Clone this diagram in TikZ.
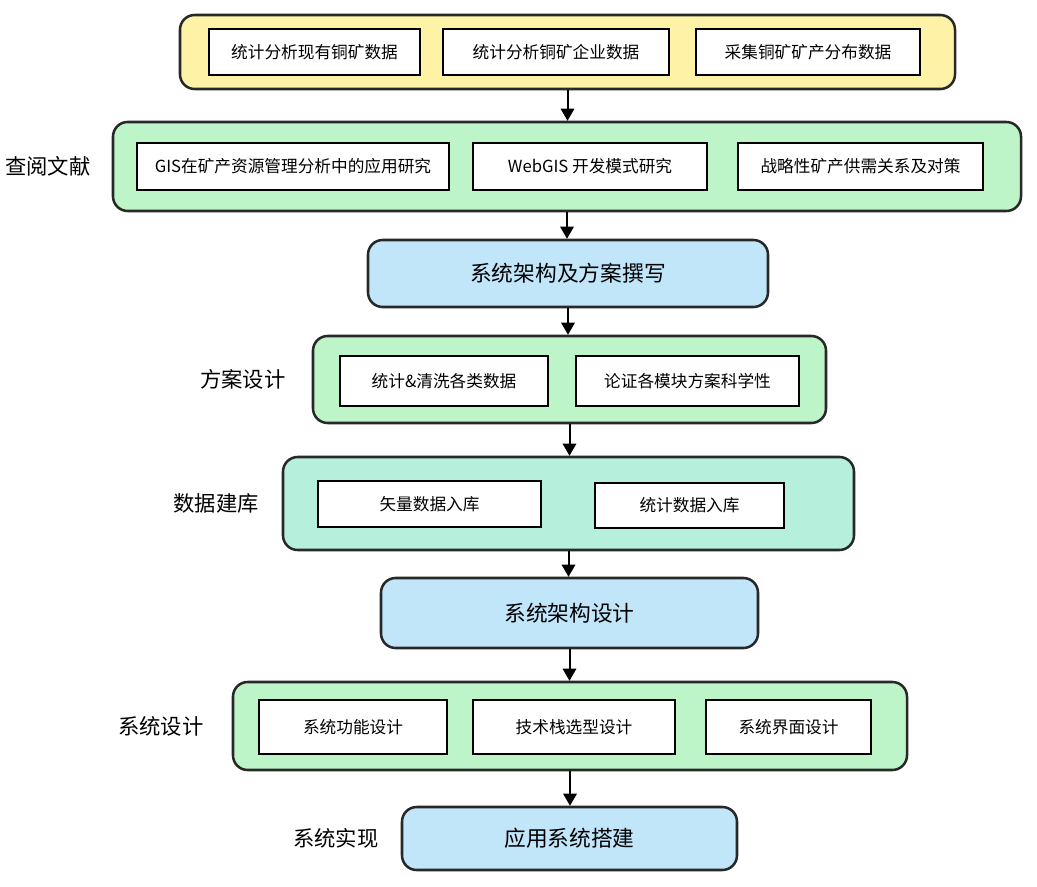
\documentclass[tikz,border=0pt]{standalone}
\usepackage{fontspec}
\setmainfont{Noto Sans CJK SC}
\usepackage{tikz}
\usetikzlibrary{arrows,positioning}
\definecolor{stageyellow}{RGB}{253,242,166}
\definecolor{stagegreen}{RGB}{190,245,200}
\definecolor{stageteal}{RGB}{182,240,220}
\definecolor{stageblue}{RGB}{193,230,250}
\definecolor{edgegray}{RGB}{40,40,40}

\begin{document}
\begin{tikzpicture}[x=0.75pt,y=-0.75pt,
    stage/.style={draw=edgegray, line width=1.9pt, rounded corners=11pt, inner sep=0pt},
    item/.style={draw=black, line width=1.5pt, fill=white, inner sep=0pt, font=\fontsize{12.5}{15}\selectfont},
    side/.style={font=\fontsize{16}{19}\selectfont, inner sep=0pt},
    flow/.style={black, line width=1.5pt, -triangle 60}]
   \useasboundingbox (0,0) rectangle (1037,887);
   % stages
   \node [stage, fill=stageyellow, minimum width=581.25pt, minimum height=55.5pt] (collect) at (567.5,52) {};
   \node [stage, fill=stagegreen, minimum width=681pt, minimum height=66.75pt] (review) at (567,166.5) {};
   \node [stage, fill=stageblue, minimum width=300pt, minimum height=50.25pt, font=\fontsize{16.3}{19}\selectfont] (plan) at (568,273.5) {系统架构及方案撰写};
   \node [stage, fill=stagegreen, minimum width=384.75pt, minimum height=65.25pt] (scheme) at (569.5,379.5) {};
   \node [stage, fill=stageteal, minimum width=428.25pt, minimum height=69.75pt] (database) at (568.5,503.5) {};
   \node [stage, fill=stageblue, minimum width=282.75pt, minimum height=52.5pt, font=\fontsize{16.3}{19}\selectfont] (arch) at (569.5,613) {系统架构设计};
   \node [stage, fill=stagegreen, minimum width=505.5pt, minimum height=66pt] (design) at (570,726) {};
   \node [stage, fill=stageblue, minimum width=251.25pt, minimum height=47.25pt, font=\fontsize{16.3}{19}\selectfont] (build) at (569.5,838.5) {应用系统搭建};
   % items
   \node [item, minimum width=158.25pt, minimum height=34.5pt] (c1) at (314.5,52) {统计分析现有铜矿数据};
   \node [item, minimum width=169.5pt, minimum height=34.5pt] (c2) at (556,52) {统计分析铜矿企业数据};
   \node [item, minimum width=168pt, minimum height=34.5pt] (c3) at (808,52) {采集铜矿矿产分布数据};
   \node [item, minimum width=234pt, minimum height=35.25pt] (r1) at (293,166.5) {GIS在矿产资源管理分析中的应用研究};
   \node [item, minimum width=175.5pt, minimum height=35.25pt] (r2) at (590,166.5) {WebGIS 开发模式研究};
   \node [item, minimum width=183.75pt, minimum height=35.25pt] (r3) at (860.5,166.5) {战略性矿产供需关系及对策};
   \node [item, minimum width=156pt, minimum height=37.5pt] (s1) at (444,381) {统计\&清洗各类数据};
   \node [item, minimum width=167.25pt, minimum height=37.5pt] (s2) at (687.5,381) {论证各模块方案科学性};
   \node [item, minimum width=167.25pt, minimum height=34.5pt] (d1) at (429.5,504) {矢量数据入库};
   \node [item, minimum width=141.75pt, minimum height=34pt] (d2) at (689.5,505.5) {统计数据入库};
   \node [item, minimum width=141pt, minimum height=40.5pt] (g1) at (353,727) {系统功能设计};
   \node [item, minimum width=151.5pt, minimum height=40.5pt] (g2) at (574,727) {技术栈选型设计};
   \node [item, minimum width=123.75pt, minimum height=40.5pt] (g3) at (788.5,727) {系统界面设计};
   % side labels
   \node [side, left=15.75pt of review] {查阅文献};
   \node [side, left=19.5pt of scheme] {方案设计};
   \node [side, left=17pt of database] {数据建库};
   \node [side, left=21pt of design] {系统设计};
   \node [side, left=16.5pt of build] {系统实现};
   % arrows
   \draw [flow] (collect.south) -- (collect.south |- review.north);
   \draw [flow] (review.south) -- (review.south |- plan.north);
   \draw [flow] (plan.south) -- (plan.south |- scheme.north);
   \draw [flow] (scheme.south) -- (scheme.south |- database.north);
   \draw [flow] (database.south) -- (database.south |- arch.north);
   \draw [flow] (arch.south) -- (arch.south |- design.north);
   \draw [flow] (design.south) -- (design.south |- build.north);
\end{tikzpicture}
\end{document}
